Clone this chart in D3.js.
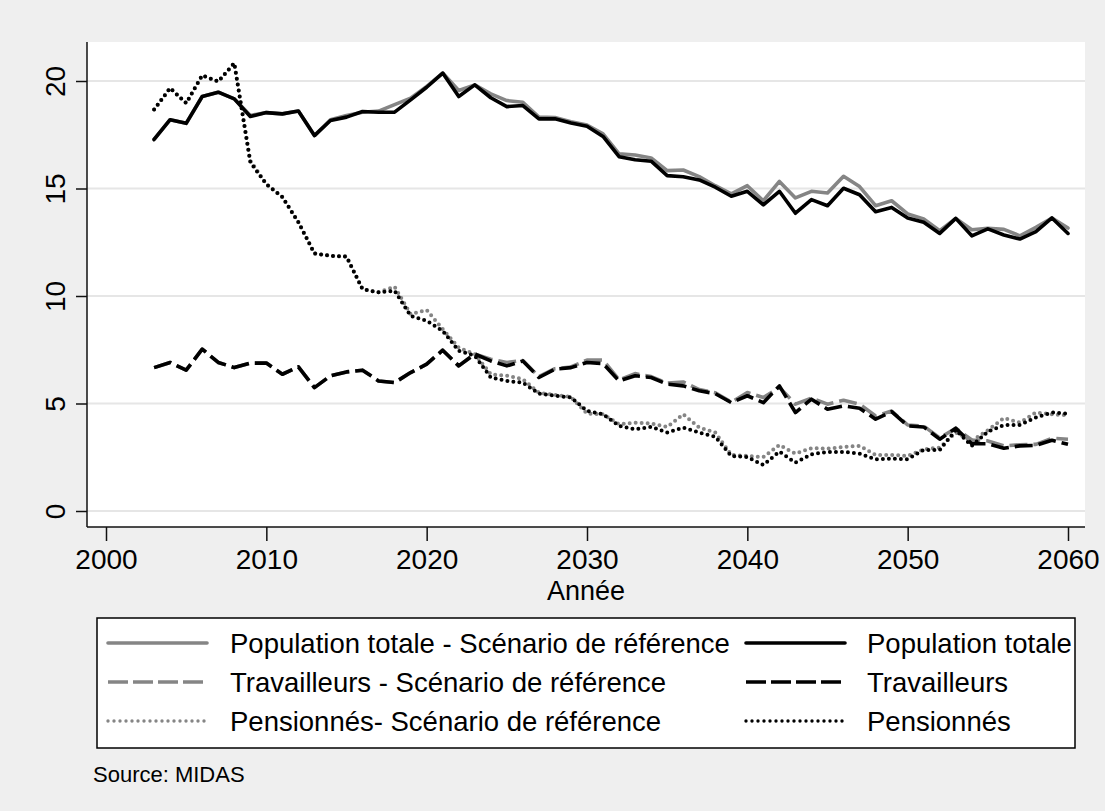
<!DOCTYPE html>
<html><head><meta charset="utf-8">
<script src="https://cdn.jsdelivr.net/npm/d3@7"></script>
<style>body{margin:0;background:#efefef;} svg{display:block;font-family:"Liberation Sans",Arial,sans-serif;}</style>
</head><body>
<svg id="c" width="1105" height="811"></svg>
<script>
const years = d3.range(2003, 2061);
const popTotale = [17.28,18.2,18.03,19.28,19.48,19.17,18.35,18.53,18.47,18.6,17.46,18.16,18.32,18.58,18.55,18.55,19.12,19.71,20.37,19.28,19.82,19.22,18.81,18.86,18.24,18.24,18.05,17.9,17.42,16.48,16.34,16.27,15.6,15.55,15.4,15.06,14.64,14.87,14.24,14.87,13.85,14.48,14.2,15.01,14.71,13.92,14.12,13.63,13.43,12.91,13.61,12.8,13.12,12.84,12.65,12.99,13.63,12.91];
const popRef = [17.28,18.2,18.03,19.28,19.48,19.17,18.4,18.53,18.47,18.6,17.46,18.2,18.4,18.55,18.6,18.9,19.2,19.75,20.37,19.56,19.82,19.4,19.09,19.01,18.32,18.3,18.11,17.95,17.54,16.61,16.56,16.42,15.83,15.86,15.55,15.13,14.75,15.13,14.43,15.33,14.56,14.87,14.79,15.57,15.09,14.2,14.43,13.82,13.58,13.04,13.61,13.08,13.15,13.1,12.8,13.19,13.63,13.16];
const travailleurs = [6.67,6.91,6.55,7.53,6.91,6.67,6.88,6.88,6.36,6.7,5.74,6.29,6.47,6.55,6.05,5.97,6.44,6.83,7.48,6.75,7.3,6.98,6.75,6.98,6.21,6.6,6.67,6.91,6.86,6.05,6.29,6.21,5.9,5.82,5.59,5.46,5.04,5.36,5.04,5.82,4.58,5.2,4.73,4.89,4.78,4.27,4.62,3.96,3.91,3.34,3.85,3.13,3.13,2.92,3.03,3.05,3.29,3.1];
const travRef = [6.67,6.91,6.55,7.53,6.91,6.67,6.88,6.88,6.36,6.7,5.74,6.29,6.47,6.55,6.05,5.97,6.44,6.83,7.48,6.75,7.3,7.06,6.91,7.0,6.25,6.62,6.7,7.02,7.02,6.1,6.39,6.25,5.95,6.0,5.65,5.5,5.06,5.51,5.28,5.75,4.97,5.25,4.97,5.15,4.97,4.42,4.65,4.0,3.95,3.4,3.85,3.3,3.26,3.03,3.08,3.1,3.38,3.34];
const pensionnes = [18.67,19.67,18.97,20.26,19.98,20.83,16.22,15.2,14.6,13.43,11.98,11.87,11.83,10.32,10.17,10.24,9.08,8.85,8.38,7.45,7.22,6.21,6.05,5.97,5.46,5.36,5.28,4.66,4.5,3.96,3.8,3.91,3.65,3.88,3.65,3.45,2.56,2.51,2.14,2.76,2.25,2.64,2.75,2.75,2.67,2.41,2.44,2.41,2.84,2.84,3.77,3.03,3.69,4.0,4.0,4.35,4.58,4.53];
const pensRef = [18.67,19.67,18.97,20.26,19.98,20.83,16.3,15.2,14.6,13.43,11.98,11.87,11.83,10.32,10.17,10.43,9.16,9.35,8.46,7.6,7.3,6.36,6.29,6.13,5.5,5.4,5.3,4.53,4.5,4.04,4.11,4.07,3.91,4.5,3.88,3.65,2.61,2.56,2.51,3.07,2.67,2.92,2.9,2.98,3.03,2.61,2.61,2.56,2.87,2.95,3.65,3.26,3.76,4.32,4.11,4.58,4.5,4.45];
const xTicks = [2000,2010,2020,2030,2040,2050,2060];
const yTicks = [0,5,10,15,20];
const legendLabels = ["Population totale - Scénario de référence","Population totale","Travailleurs - Scénario de référence","Travailleurs","Pensionnés- Scénario de référence","Pensionnés"];

const svg = d3.select("#c");
const plot = {l:87, r:1085, t:42, b:527};
const x = d3.scaleLinear().domain([2000,2060]).range([106,1068]);
const y = d3.scaleLinear().domain([0,20]).range([511,81]);

svg.append("rect").attr("width",1105).attr("height",811).attr("fill","#efefef");
svg.append("rect").attr("x",plot.l).attr("y",plot.t).attr("width",plot.r-plot.l).attr("height",plot.b-plot.t).attr("fill","#fff");

svg.append("g").selectAll("line").data(yTicks).join("line")
  .attr("x1",plot.l).attr("x2",plot.r).attr("y1",d=>y(d)).attr("y2",d=>y(d))
  .attr("stroke","#e6e6e6").attr("stroke-width",2);

const yAxis = d3.axisLeft(y).tickValues(yTicks).tickSize(11).tickPadding(10);
const gy = svg.append("g").attr("transform",`translate(${plot.l},0)`).call(yAxis);
gy.select(".domain").attr("d",`M0,${plot.t}V${plot.b}`).attr("stroke","#111").attr("stroke-width",1.5);
gy.selectAll(".tick line").attr("stroke","#111").attr("stroke-width",1.5);
gy.selectAll(".tick text").attr("font-size",28).attr("fill","#000").attr("font-family","Liberation Sans, Arial, sans-serif")
  .attr("text-anchor","middle").attr("x",0).attr("dy",0)
  .attr("transform",`translate(-22,0) rotate(-90)`);

const xAxis = d3.axisBottom(x).tickValues(xTicks).tickFormat(d3.format("d")).tickSize(14).tickPadding(8);
const gx = svg.append("g").attr("transform",`translate(0,${plot.b})`).call(xAxis);
gx.select(".domain").attr("d",`M${plot.l},0H${plot.r}`).attr("stroke","#111").attr("stroke-width",1.5);
gx.selectAll(".tick line").attr("stroke","#111").attr("stroke-width",1.5);
gx.selectAll(".tick text").attr("font-size",28).attr("fill","#000").attr("font-family","Liberation Sans, Arial, sans-serif");

svg.append("text").attr("x",(plot.l+plot.r)/2).attr("y",600).attr("text-anchor","middle")
  .attr("font-size",27).text("Année");

const styles = {
  solid:{dash:null, cap:"round"},
  dash:{dash:"18,6", cap:"butt"},
  dot:{dash:"0,6", cap:"round"}
};
const series = [
  {vals:popRef, color:"#858585", st:"solid", w:3.6},
  {vals:travRef, color:"#858585", st:"dash", w:3.6},
  {vals:pensRef, color:"#858585", st:"dot", w:4},
  {vals:popTotale, color:"#000", st:"solid", w:3.6},
  {vals:travailleurs, color:"#000", st:"dash", w:3.6},
  {vals:pensionnes, color:"#000", st:"dot", w:4}
];
const line = d3.line().x((d,i)=>x(years[i])).y(d=>y(d));
series.forEach(s=>{
  svg.append("path").attr("d",line(s.vals)).attr("fill","none").attr("stroke",s.color)
    .attr("stroke-width",s.w).attr("stroke-linejoin","round").attr("stroke-linecap",styles[s.st].cap)
    .attr("stroke-dasharray",styles[s.st].dash);
});

svg.append("rect").attr("x",97).attr("y",618).attr("width",978).attr("height",130)
  .attr("fill","#fff").attr("stroke","#000").attr("stroke-width",1.5);
const legItems = [
  {label:legendLabels[0], color:"#858585", st:"solid", col:0,row:0},
  {label:legendLabels[1], color:"#000", st:"solid", col:1,row:0},
  {label:legendLabels[2], color:"#858585", st:"dash", col:0,row:1},
  {label:legendLabels[3], color:"#000", st:"dash", col:1,row:1},
  {label:legendLabels[4], color:"#858585", st:"dot", col:0,row:2},
  {label:legendLabels[5], color:"#000", st:"dot", col:1,row:2}
];
const colX = [108, 746], textX = [230, 867], rowY = [643, 682, 721];
const legDash = {solid:null, dash:"20,5", dot:"0,6"};
legItems.forEach(it=>{
  const yy = rowY[it.row];
  svg.append("line").attr("x1",colX[it.col]).attr("x2",colX[it.col]+99).attr("y1",yy).attr("y2",yy)
    .attr("stroke",it.color).attr("stroke-width",it.st==="dot"?3.4:3.6).attr("stroke-linecap",styles[it.st].cap)
    .attr("stroke-dasharray",legDash[it.st]);
  svg.append("text").attr("x",textX[it.col]).attr("y",yy+10).attr("font-size",27.5).attr("fill","#000").text(it.label);
});

svg.append("text").attr("x",93).attr("y",782).attr("font-size",22).attr("fill","#000").text("Source: MIDAS");
</script>
</body></html>
